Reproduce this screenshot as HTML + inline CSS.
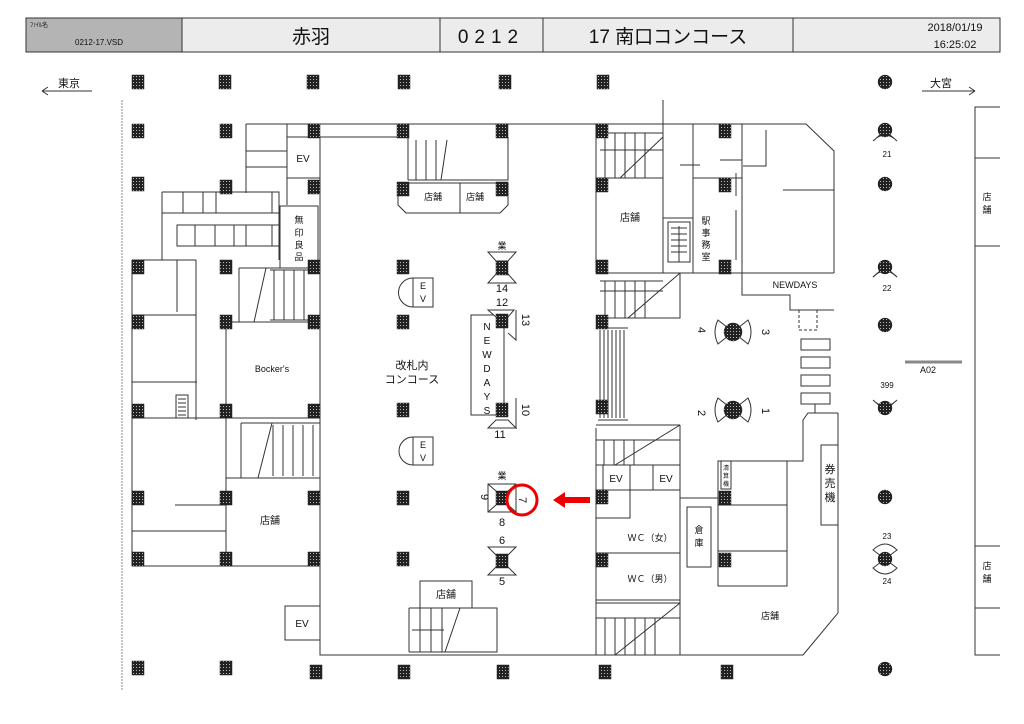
<!DOCTYPE html>
<html><head><meta charset="utf-8"><style>
html,body{margin:0;padding:0;background:#fff;}
svg{display:block;font-family:"Liberation Sans","Noto Sans CJK JP",sans-serif;}
</style></head><body>
<svg width="1024" height="724" viewBox="0 0 1024 724" xmlns="http://www.w3.org/2000/svg">
<defs>
<pattern id="dots" width="3" height="3" patternUnits="userSpaceOnUse"><rect width="3" height="3" fill="#222"/><rect x="1" y="1" width="1" height="1" fill="#bbb"/></pattern>
</defs>
<!-- header -->
<g stroke="#333" stroke-width="1">
<rect x="26" y="18" width="156" height="34" fill="#b4b4b4"/>
<rect x="182" y="18" width="258" height="34" fill="#ececec"/>
<rect x="440" y="18" width="103" height="34" fill="#ececec"/>
<rect x="543" y="18" width="250" height="34" fill="#ececec"/>
<rect x="793" y="18" width="207" height="34" fill="#ececec"/>
</g>
<g fill="#111">
<text x="30" y="27" font-size="6">ﾌｧｲﾙ名</text>
<text x="75" y="45" font-size="8">0212-17.VSD</text>
<text x="311" y="43" font-size="19" text-anchor="middle">赤羽</text>
<text x="491" y="43" font-size="19" text-anchor="middle" letter-spacing="6">0212</text>
<text x="668" y="43" font-size="19" text-anchor="middle">17 南口コンコース</text>
<text x="955" y="31" font-size="11" text-anchor="middle">2018/01/19</text>
<text x="955" y="48" font-size="11" text-anchor="middle">16:25:02</text>
<text x="58" y="87" font-size="11">東京</text>
<text x="930" y="87" font-size="11">大宮</text>
</g>
<g stroke="#333" fill="none" stroke-width="1">
<path d="M42 91H92M42 91l6-4M42 91l6 4"/>
<path d="M922 91H975M975 91l-6-4M975 91l-6 4"/>
<path d="M122 100V690" stroke-dasharray="2 1" stroke="#888"/>
<!-- right shop column -->
<path d="M1000 107H975V655H1000M975 158H1000M975 246H1000M975 546H1000M975 608H1000"/>
<!-- concourse outline -->
<path d="M246 124H806L834 151V273M838 413V613L803 655H320V137"/>
<path d="M320 137H407M287 124V205M246 124V193M246 151H287M246 167H287"/>
<rect x="287" y="137" width="33" height="41"/>
<!-- locker cells -->
<path d="M162 192H279V260M162 192V260M162 213H279M183 192V213M203 192V213M216 192V213M272 192V213"/>
<rect x="177" y="225" width="102" height="21"/>
<path d="M195 225V246M215 225V246M234 225V246M246 225V246M272 225V246"/>
<rect x="280" y="206" width="38" height="62"/>
<!-- left blocks -->
<path d="M132 260H196M132 260V566M196 260V420M177 260V312M132 315H196M132 382H197M132 418H320M226 322V566M226 322H320M226 478H320M132 566H320M132 531H226M175 505H226M196 260V300"/>
<rect x="176" y="395" width="12" height="23"/>
<path d="M178 399H186M178 403H186M178 407H186M178 411H186M178 415H186"/>
<!-- stair upper left -->
<path d="M239 268V322M239 268H318M266 268L254 322M270 270H310M274 270V320M284 270V320M294 270V320M304 270V320M270 320H318"/>
<!-- stair lower left -->
<path d="M241 423H320M241 423V478M272 423L258 478M273 425V476M283 425V476M293 425V476M303 425V476M313 425V476"/>
<rect x="285" y="606" width="35" height="34"/>
<!-- center top stair + shops -->
<path d="M408 137V180M408 137L402 137M416 140V180H444M426 140V180M436 140V180M447 140L441 180M408 180H508V137"/>
<path d="M398 183H508V205L500 213H406L398 205Z"/>
<path d="M460 183V213"/>
<!-- EV bubbles -->
<path d="M413 278H433V307H413A14.5 14.5 0 0 1 413 278Z"/>
<path d="M413 278V307"/>
<path d="M413 437H433V465H413A14 14 0 0 1 413 437Z"/>
<path d="M413 437V465"/>
<!-- NEWDAYS vertical -->
<rect x="471" y="315" width="33" height="100"/>
<!-- bottom shop + stair -->
<rect x="420" y="581" width="52" height="27"/>
<path d="M409 608H497V652H409M409 608V652M420 608V652M431 608V652M442 608V652M412 630H444M460 608L445 652"/>
<!-- right upper -->
<path d="M663 100V273M596 124V273M596 178H663M663 218H693M693 178V273M693 124V178H742M742 124V273M742 273H834M596 273H834"/>
<path d="M680 165H700M720 160H742M742 160V170M766 130V166H743M783 190H834M736 173V196M736 210V260"/>
<path d="M668 222H690V262H668Z"/>
<path d="M671 228H687M671 234H687M671 240H687M671 246H687M671 252H687M679 226V262"/>
<!-- right upper stairs -->
<path d="M600 133H663M600 150H663M605 133V178M615 133V178M625 133V178M635 133V178M645 133V178M663 137L620 178"/>
<path d="M600 281H663M600 291H663M605 281V318M615 281V318M625 281V318M635 281V318M645 281V318M680 273L628 318M596 318H680V273"/>
<!-- NEWDAYS box -->
<path d="M742 273V295H790V310H834"/>
<path d="M799 310V330H817V310" stroke-dasharray="3 2"/>
<rect x="801" y="339" width="29" height="11"/>
<rect x="801" y="357" width="29" height="11"/>
<rect x="801" y="375" width="29" height="11"/>
<rect x="801" y="393" width="29" height="11"/>
<path d="M815 404V413M838 413H808L803 420V461H718M680 498H718"/>
<!-- escalator to platform -->
<path d="M598 328H628M598 420H628M600 330V418M604 330V418M608 330V418M612 330V418M616 330V418M620 330V418M624 330V418"/>
<!-- stair above EV -->
<path d="M596 425H680M596 440H680M596 465H680M680 425V600M604 440V465M614 440V465M624 440V465M634 440V465M680 425L615 465"/>
<path d="M603 465V490M630 465V490M653 465V490M596 490H680M630 490V518H596M596 428V655M596 553H680M596 600H680"/>
<!-- bottom right stair -->
<path d="M596 603H680M596 618H680M605 618V655M615 618V655M625 618V655M635 618V655M645 618V655M655 618V655M680 603L615 655M680 600V655"/>
<rect x="687" y="507" width="24" height="60"/>
<rect x="718" y="461" width="69" height="125"/>
<path d="M718 505H787M718 551H787"/>
<rect x="721" y="461" width="10" height="28"/>
<rect x="821" y="445" width="17" height="80"/>
<!-- A02 -->
<path d="M905 362H962" stroke="#888" stroke-width="3"/>
</g>
<!-- labels -->
<g fill="#111" text-anchor="middle">
<text x="303" y="162" font-size="10">EV</text>
<text x="299" y="223" font-size="9">無</text><text x="299" y="236" font-size="9">印</text><text x="299" y="248" font-size="9">良</text><text x="299" y="260" font-size="9">品</text>
<text x="272" y="372" font-size="9">Bocker's</text>
<text x="270" y="524" font-size="10">店舗</text>
<text x="302" y="627" font-size="10">EV</text>
<text x="433" y="200" font-size="9">店舗</text>
<text x="475" y="200" font-size="9">店舗</text>
<text x="423" y="289" font-size="9">E</text><text x="423" y="302" font-size="9">V</text>
<text x="423" y="448" font-size="9">E</text><text x="423" y="461" font-size="9">V</text>
<text x="412" y="369" font-size="11">改札内</text>
<text x="412" y="383" font-size="11">コンコース</text>
<g font-size="10"><text x="487" y="330">N</text><text x="487" y="344">E</text><text x="487" y="358">W</text><text x="487" y="372">D</text><text x="487" y="386">A</text><text x="487" y="400">Y</text><text x="487" y="414">S</text></g>
<text x="446" y="598" font-size="10">店舗</text>
<text x="630" y="221" font-size="10">店舗</text>
<text x="706" y="224" font-size="9">駅</text><text x="706" y="236" font-size="9">事</text><text x="706" y="248" font-size="9">務</text><text x="706" y="260" font-size="9">室</text>
<text x="795" y="288" font-size="9">NEWDAYS</text>
<text x="616" y="482" font-size="10">EV</text>
<text x="666" y="482" font-size="10">EV</text>
<text x="650" y="541" font-size="9">ＷＣ（女）</text>
<text x="650" y="582" font-size="9">ＷＣ（男）</text>
<text x="699" y="533" font-size="9">倉</text><text x="699" y="546" font-size="9">庫</text>
<text x="726" y="470" font-size="6">清</text><text x="726" y="478" font-size="6">算</text><text x="726" y="486" font-size="6">機</text>
<text x="830" y="473" font-size="11">券</text><text x="830" y="487" font-size="11">売</text><text x="830" y="501" font-size="11">機</text>
<text x="770" y="619" font-size="9">店舗</text>
<text x="987" y="200" font-size="9">店</text><text x="987" y="213" font-size="9">舗</text>
<text x="987" y="569" font-size="9">店</text><text x="987" y="582" font-size="9">舗</text>
<text x="928" y="373" font-size="9">A02</text>
<text x="887" y="157" font-size="8">21</text>
<text x="887" y="291" font-size="8">22</text>
<text x="887" y="388" font-size="8">399</text>
<text x="887" y="539" font-size="8">23</text>
<text x="887" y="584" font-size="8">24</text>
<text x="502" y="249" font-size="9">業</text>
<text x="502" y="292" font-size="11">14</text>
<text x="502" y="306" font-size="11">12</text>
<text x="500" y="438" font-size="11">11</text>
<text x="502" y="479" font-size="9">業</text>
<text x="502" y="526" font-size="11">8</text>
<text x="502" y="544" font-size="11">6</text>
<text x="502" y="585" font-size="11">5</text>
</g>
<g fill="#111" font-size="11" text-anchor="middle">
<text transform="translate(522,320) rotate(90)">13</text>
<text transform="translate(522,410) rotate(90)">10</text>
<text transform="translate(481,497) rotate(90)">9</text>
<text transform="translate(519,500) rotate(90)">7</text>
<text transform="translate(698,330) rotate(90)">4</text>
<text transform="translate(762,332) rotate(90)">3</text>
<text transform="translate(698,413) rotate(90)">2</text>
<text transform="translate(762,411) rotate(90)">1</text>
</g>
<!-- escalator symbols -->
<g stroke="#333" fill="#fff">
<path d="M488 252H516L508 261H496Z"/><path d="M488 283H516L508 274H496Z"/>
<path d="M514 310L488 310L496 317H508Z"/><path d="M516 310V340L508 333"/>
<path d="M516 398V428L508 420M488 428H516L508 420H496Z"/>
<rect x="488" y="484" width="28" height="28"/>
<path d="M488 484L496 491M516 484L508 491M488 512L496 505M516 512L508 505"/>
<path d="M488 547H516L508 555H496Z"/><path d="M488 575H516L508 567H496Z"/>
<!-- bowtie fans -->
<path d="M718 320Q712 332 718 344L728 336V328Z"/><path d="M748 320Q754 332 748 344L738 336V328Z"/>
<path d="M718 398Q712 410 718 422L728 414V406Z"/><path d="M748 398Q754 410 748 422L738 414V406Z"/>
<!-- column fans -->
<path d="M873 141Q885 129 897 141L889 134H881Z"/>
<path d="M873 277Q885 265 897 277"/><path d="M873 277L881 270M897 277L889 270"/>
<path d="M873 400Q885 412 897 400L889 407H881Z"/>
<path d="M873 550Q885 538 897 550L889 556H881Z"/>
<path d="M873 568Q885 580 897 568L889 562H881Z"/>
</g>
<!-- pillars -->
<g fill="url(#dots)" stroke="#222" stroke-width="0.5">
<rect x="132" y="75" width="12" height="14"/><rect x="219" y="75" width="12" height="14"/><rect x="307" y="75" width="12" height="14"/><rect x="398" y="75" width="12" height="14"/><rect x="499" y="75" width="12" height="14"/><rect x="597" y="75" width="12" height="14"/>
<rect x="132" y="124" width="12" height="14"/><rect x="220" y="124" width="12" height="14"/><rect x="308" y="124" width="12" height="14"/><rect x="397" y="124" width="12" height="14"/><rect x="496" y="124" width="12" height="14"/><rect x="596" y="124" width="12" height="14"/><rect x="719" y="124" width="12" height="14"/>
<rect x="132" y="177" width="12" height="14"/><rect x="220" y="180" width="12" height="14"/><rect x="308" y="180" width="12" height="14"/><rect x="397" y="182" width="12" height="14"/><rect x="496" y="182" width="12" height="14"/><rect x="596" y="178" width="12" height="14"/><rect x="719" y="178" width="12" height="14"/>
<rect x="132" y="260" width="12" height="14"/><rect x="220" y="260" width="12" height="14"/><rect x="308" y="260" width="12" height="14"/><rect x="397" y="260" width="12" height="14"/><rect x="496" y="261" width="12" height="14"/><rect x="596" y="260" width="12" height="14"/><rect x="719" y="260" width="12" height="14"/>
<rect x="132" y="315" width="12" height="14"/><rect x="220" y="315" width="12" height="14"/><rect x="308" y="315" width="12" height="14"/><rect x="397" y="315" width="12" height="14"/><rect x="496" y="314" width="12" height="14"/><rect x="596" y="315" width="12" height="14"/>
<rect x="132" y="404" width="12" height="14"/><rect x="220" y="404" width="12" height="14"/><rect x="308" y="404" width="12" height="14"/><rect x="397" y="403" width="12" height="14"/><rect x="496" y="403" width="12" height="14"/><rect x="596" y="400" width="12" height="14"/>
<rect x="132" y="491" width="12" height="14"/><rect x="220" y="491" width="12" height="14"/><rect x="308" y="491" width="12" height="14"/><rect x="397" y="491" width="12" height="14"/><rect x="496" y="491" width="12" height="14"/><rect x="596" y="490" width="12" height="14"/><rect x="719" y="491" width="12" height="14"/>
<rect x="132" y="552" width="12" height="14"/><rect x="220" y="552" width="12" height="14"/><rect x="308" y="552" width="12" height="14"/><rect x="397" y="552" width="12" height="14"/><rect x="496" y="554" width="12" height="14"/><rect x="596" y="553" width="12" height="14"/><rect x="719" y="553" width="12" height="14"/>
<rect x="132" y="661" width="12" height="14"/><rect x="220" y="661" width="12" height="14"/><rect x="310" y="665" width="12" height="14"/><rect x="398" y="665" width="12" height="14"/><rect x="497" y="665" width="12" height="14"/><rect x="599" y="665" width="12" height="14"/><rect x="721" y="665" width="12" height="14"/>
<circle cx="885" cy="82" r="7"/><circle cx="885" cy="130" r="7"/><circle cx="885" cy="184" r="7"/><circle cx="885" cy="267" r="7"/><circle cx="885" cy="325" r="7"/><circle cx="885" cy="408" r="7"/><circle cx="885" cy="497" r="7"/><circle cx="885" cy="559" r="7"/><circle cx="885" cy="669" r="7"/>
<circle cx="733" cy="332" r="9"/><circle cx="733" cy="410" r="9"/>
</g>
<!-- red markers -->
<circle cx="522" cy="500" r="15" fill="none" stroke="#e00" stroke-width="3"/>
<path d="M590 497H565V492L553 500L565 508V503H590Z" fill="#e00"/>
</svg>
</body></html>
